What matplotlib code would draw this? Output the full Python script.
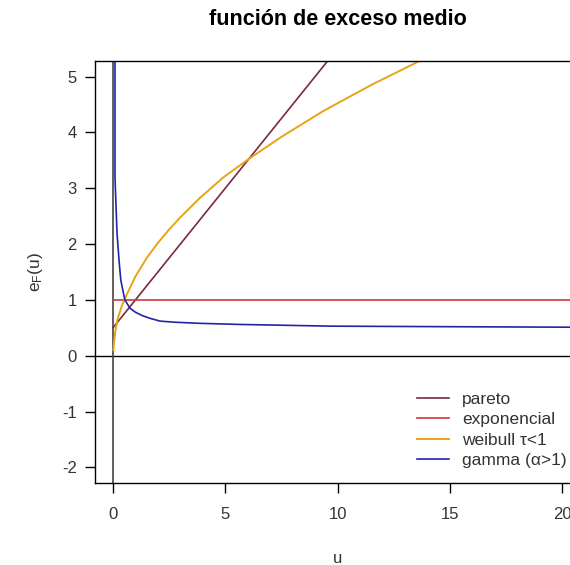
import numpy as np
import matplotlib.pyplot as plt

plt.rcParams['font.family'] = ['Liberation Sans', 'DejaVu Sans']
plt.rcParams['mathtext.default'] = 'regular'
plt.rcParams['axes.unicode_minus'] = False

# mean excess curves e_F(u), values read along u
u_pareto = [0.0, 10.0]
e_pareto = [0.5, 5.5]

u_expo = [0.0, 21.0]
e_expo = [1.0, 1.0]

u_weib = [0.02, 0.05, 0.1, 0.2, 0.4, 0.62, 1.0, 1.5, 2.0, 2.5, 3.0, 3.88, 4.9, 6.1, 7.5, 9.35, 11.5, 13.7]
e_weib = [0.1, 0.25, 0.42, 0.65, 0.9, 1.1, 1.42, 1.75, 2.02, 2.26, 2.48, 2.83, 3.19, 3.54, 3.92, 4.38, 4.85, 5.29]

u_gamma = [0.09, 0.09, 0.18, 0.27, 0.35, 0.53, 0.76, 1.0, 1.3, 1.65, 2.1, 2.76, 3.9, 5.7, 9.7, 15.0, 21.0]
e_gamma = [6.0, 3.2, 2.2, 1.71, 1.35, 1.0, 0.85, 0.78, 0.72, 0.67, 0.62, 0.6, 0.58, 0.56, 0.53, 0.52, 0.51]

labels = ["pareto", "exponencial", "weibull \u03c4<1", "gamma (\u03b1>1)"]
colors = ["#7a2a3a", "#c83a3a", "#e8a317", "#2424a8"]

fig = plt.figure(figsize=(5.7, 5.65), dpi=100)
ax = fig.add_axes([95 / 570, 1 - 483 / 565, 485 / 570, 422 / 565])

ax.axhline(0, color="black", lw=1)
ax.axvline(0, color="#444444", lw=1.2)

ax.plot(u_pareto, e_pareto, color=colors[0], lw=1.2, label=labels[0])
ax.plot(u_expo, e_expo, color=colors[1], lw=1.2, label=labels[1])
ax.plot(u_weib, e_weib, color=colors[2], lw=1.4, label=labels[2])
ax.plot(u_gamma, e_gamma, color=colors[3], lw=1.2, label=labels[3])

ax.set_xlim(-0.8, 20.8)
ax.set_ylim(-2.28, 5.28)
ax.set_xticks([0, 5, 10, 15, 20])
ax.set_yticks([-2, -1, 0, 1, 2, 3, 4, 5])
ax.tick_params(length=7, width=1, labelsize=12, labelcolor="#333333", pad=6)
ax.tick_params(axis="x", pad=10)
for s in ax.spines.values():
    s.set_linewidth(1)

ax.set_xlabel("u", fontsize=12, labelpad=21, color="#333333")
ax.set_ylabel("$e_F(u)$", fontsize=12.5, labelpad=12, color="#333333")
ax.set_title("función de exceso medio", fontsize=15.5, fontweight="bold", pad=26)

ax.legend(frameon=False, loc="upper left", bbox_to_anchor=(410 / 570, 1 - 385 / 565),
          bbox_transform=fig.transFigure, fontsize=12.5, handlelength=1.85,
          labelspacing=0.3, handletextpad=0.75, borderaxespad=0, labelcolor="#333333")

fig.savefig("out.png", dpi=100)
